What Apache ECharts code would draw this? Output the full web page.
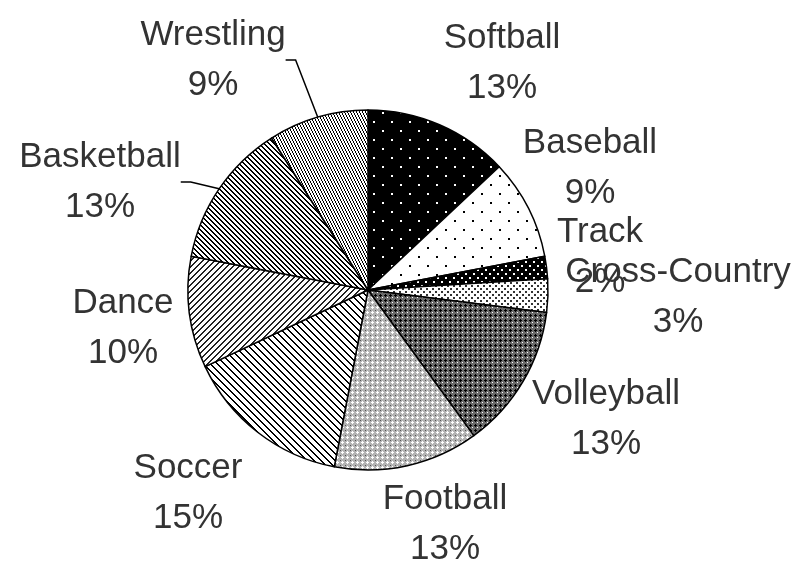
<!DOCTYPE html>
<html>
<head>
<meta charset="utf-8">
<script src="https://cdn.jsdelivr.net/npm/echarts@6/dist/echarts.min.js"></script>
<style>
  html, body { margin: 0; padding: 0; background: #fff; }
  #main { width: 807px; height: 566px; }
</style>
</head>
<body>
<div id="main"></div>
<script>
// sports share of participants, clockwise from 12 o'clock
var sports = ['Softball', 'Baseball', 'Track', 'Cross-Country', 'Volleyball',
              'Football', 'Soccer', 'Dance', 'Basketball', 'Wrestling'];
var shares = [13, 9, 2, 3, 13, 13, 15, 10, 13, 9];

// where each label block sits (centre)
var labelSpots = {
    'Softball': [502, 63],
    'Baseball': [590, 168],
    'Track': [600, 257],
    'Cross-Country': [678, 297],
    'Volleyball': [606, 419],
    'Football': [445, 524],
    'Soccer': [188, 493],
    'Dance': [123, 328],
    'Basketball': [100, 182],
    'Wrestling': [213, 60]
};

/**
 * pixel tile -> canvas used as fill pattern
 */
function tile(w, h, bg, paint) {
    var c = document.createElement('canvas');
    c.width = w; c.height = h;
    var ctx = c.getContext('2d');
    ctx.fillStyle = bg;
    ctx.fillRect(0, 0, w, h);
    for (var y = 0; y < h; y++) {
        for (var x = 0; x < w; x++) {
            var col = paint(x, y);
            if (col) {
                ctx.fillStyle = col;
                ctx.fillRect(x, y, 1, 1);
            }
        }
    }
    return {image: c, repeat: 'repeat'};
}

function dots(a, b, d) {
    return function (x, y) {
        return (x >= a && x < a + d && y >= a && y < a + d) ||
               (x >= b && x < b + d && y >= b && y < b + d);
    };
}

var patterns = {
    'Softball': tile(18, 18, '#000', function (x, y) { return dots(4, 13, 2)(x, y) ? '#fff' : null; }),
    'Baseball': tile(18, 18, '#fff', function (x, y) { return dots(4, 13, 2)(x, y) ? '#000' : null; }),
    'Track': tile(8, 8, '#000', function (x, y) { return dots(1, 5, 2)(x, y) ? '#fff' : null; }),
    'Cross-Country': tile(6, 6, '#fff', function (x, y) { return dots(0, 3, 2)(x, y) ? '#333' : null; }),
    'Volleyball': tile(5, 5, '#6a6a6a', function (x, y) {
        if ((x === 0 && (y <= 1 || y === 4)) || (y === 0 && (x <= 1 || x === 4))) return '#000';
        if (x === 2 && y === 2) return '#fff';
        return null;
    }),
    'Football': tile(5, 5, '#b4b4b4', function (x, y) {
        if ((x === 2 && y >= 1 && y <= 3) || (y === 2 && x >= 1 && x <= 3)) return '#fff';
        if (x === 0 && y === 0) return '#555';
        return null;
    }),
    'Soccer': tile(7, 7, '#fff', function (x, y) {
        var k = ((x - y) % 7 + 7) % 7;
        return k < 2 ? '#000' : null;
    }),
    'Dance': tile(6, 6, '#fff', function (x, y) {
        var k = (x + y) % 6;
        return k < 2 ? '#222' : null;
    }),
    'Basketball': tile(5, 5, '#fff', function (x, y) {
        var k = ((x - y) % 5 + 5) % 5;
        return k < 2 ? '#000' : null;
    }),
    'Wrestling': tile(6, 6, '#fff', function (x, y) {
        var k = ((2 * x - y) % 6 + 6) % 6;
        return k < 2 ? '#000' : null;
    })
};

var myChart = echarts.init(document.getElementById('main'));

var pieData = [];
for (var i = 0; i < sports.length; i++) {
    var item = {
        name: sports[i],
        value: shares[i],
        itemStyle: {color: patterns[sports[i]]}
    };
    if (sports[i] === 'Wrestling' || sports[i] === 'Basketball') {
        item.labelLine = {show: true};
    }
    pieData.push(item);
}

var option = {
    backgroundColor: '#fff',
    animation: false,
    series: [{
        type: 'pie',
        center: [368, 290],
        radius: 180,
        startAngle: 90,
        clockwise: true,
        data: pieData,
        itemStyle: {borderColor: '#000', borderWidth: 1.5},
        emphasis: {disabled: true},
        label: {
            show: true,
            position: 'outside',
            formatter: function (p) { return p.name + '\n' + p.value + '%'; },
            fontFamily: '"Liberation Sans", Arial, sans-serif',
            fontSize: 35,
            lineHeight: 50,
            color: '#333',
            align: 'center',
            overflow: 'none',
            edgeDistance: 0
        },
        labelLine: {
            show: false,
            length: 30,
            length2: 10,
            lineStyle: {color: '#000', width: 1.5}
        },
        labelLayout: function (p) {
            var spot = labelSpots[sports[p.dataIndex]];
            return {x: spot[0], y: spot[1], align: 'center', verticalAlign: 'middle'};
        }
    }]
};

myChart.setOption(option);
</script>
</body>
</html>
